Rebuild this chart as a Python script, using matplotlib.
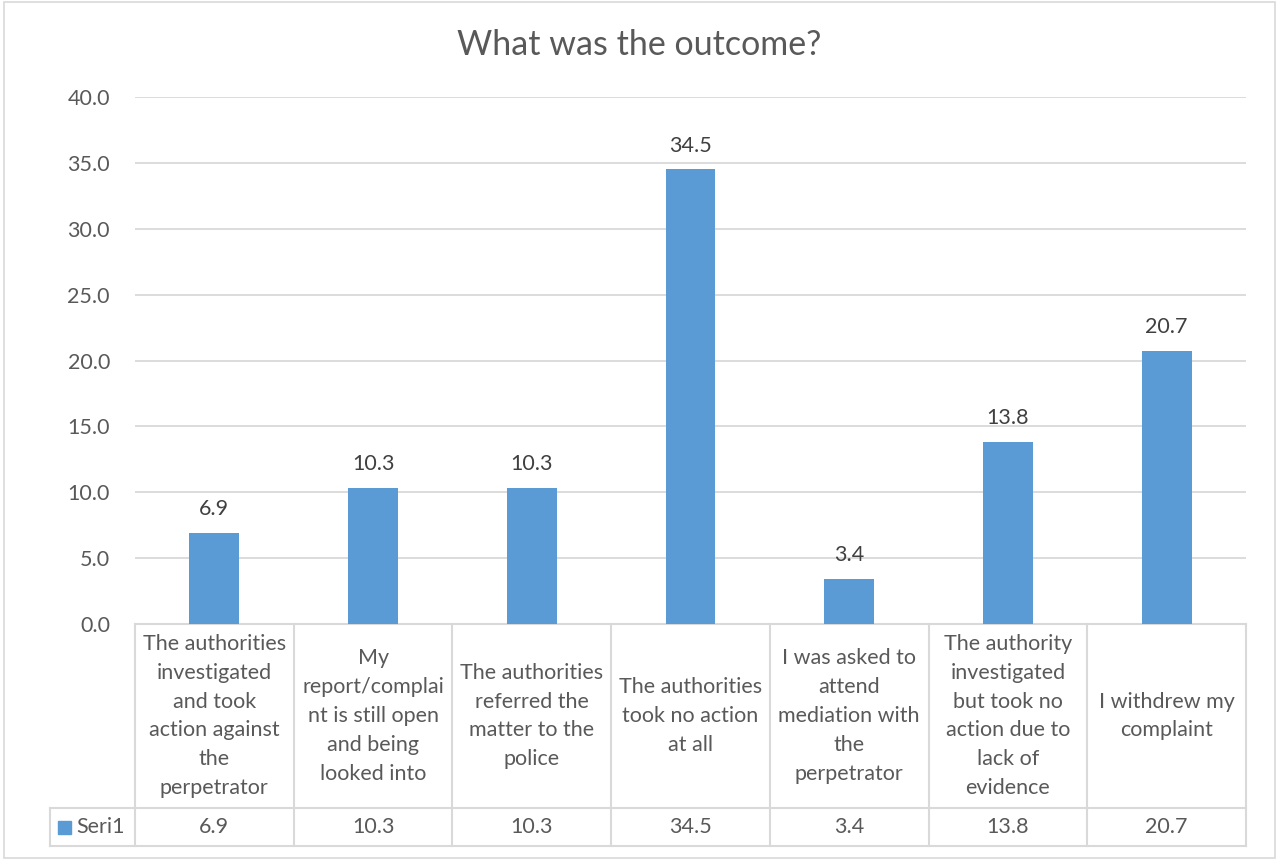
import matplotlib
matplotlib.use("Agg")
import matplotlib.pyplot as plt
from matplotlib.lines import Line2D
from matplotlib.patches import Rectangle

categories = [
    "The authorities\ninvestigated\nand took\naction against\nthe\nperpetrator",
    "My\nreport/complai\nnt is still open\nand being\nlooked into",
    "The authorities\nreferred the\nmatter to the\npolice",
    "The authorities\ntook no action\nat all",
    "I was asked to\nattend\nmediation with\nthe\nperpetrator",
    "The authority\ninvestigated\nbut took no\naction due to\nlack of\nevidence",
    "I withdrew my\ncomplaint",
]
values = [6.9, 10.3, 10.3, 34.5, 3.4, 13.8, 20.7]
series_name = "Seri1"
title = "What was the outcome?"
yticks = [0, 5, 10, 15, 20, 25, 30, 35, 40]

W, H = 1278, 861
plt.rcParams['font.family'] = ['Lato', 'DejaVu Sans']
fig = plt.figure(figsize=(W / 100, H / 100), dpi=100)

BAR = "#5B9BD5"
TXT = "#595959"
GRID = "#D9D9D9"
FS = 15.5

# outer border
fig.add_artist(Rectangle((4 / W, 1 - 858 / H), (1275 - 4) / W, (858 - 2) / H,
                         transform=fig.transFigure, fill=False,
                         edgecolor=GRID, lw=1.2))

left, right, top, bottom = 135, 1246, 97, 624
ax = fig.add_axes([left / W, 1 - bottom / H, (right - left) / W, (bottom - top) / H])
n = len(values)
x = list(range(n))
ax.bar(x, values, width=0.315, color=BAR, zorder=3)
ax.set_xlim(-0.5, n - 0.5)
ax.set_ylim(0, 40)
ax.set_yticks(yticks)
ax.set_yticklabels([f"{v:.1f}" for v in yticks], color=TXT, fontsize=FS)
ax.tick_params(axis='y', length=0, pad=18)
ax.set_xticks([])
for s in ax.spines.values():
    s.set_visible(False)
ax.yaxis.grid(True, color=GRID, lw=1.3, zorder=0)
ax.set_axisbelow(True)

for xi, v in zip(x, values):
    ax.annotate(f"{v:.1f}", (xi, v), xytext=(0, 10), textcoords="offset points",
                ha="center", va="bottom", fontsize=FS, color="#404040")

fig.text(0.5, 1 - 45 / H, title, ha="center", va="center", fontsize=24.5, color=TXT)

# data table
h = bottom - top
def yax(py):
    return (bottom - py) / h

tr = ax.get_xaxis_transform()
y0 = yax(624)
y1 = yax(808)
y2 = yax(846)
xtab_left = -0.5 - (left - 50) / ((right - left) / n)
lkw = dict(color=GRID, lw=1.5, transform=tr, clip_on=False)
ax.add_line(Line2D([-0.5, n - 0.5], [y0, y0], **lkw))
ax.add_line(Line2D([xtab_left, n - 0.5], [y1, y1], **lkw))
ax.add_line(Line2D([xtab_left, n - 0.5], [y2, y2], **lkw))
for i in range(n + 1):
    ax.add_line(Line2D([i - 0.5, i - 0.5], [y0, y2], **lkw))
ax.add_line(Line2D([xtab_left, xtab_left], [y1, y2], **lkw))

for xi, (c, v) in enumerate(zip(categories, values)):
    ax.text(xi, (y0 + y1) / 2, c, transform=tr, ha="center", va="center",
            fontsize=FS, color=TXT, linespacing=1.55, clip_on=False)
    ax.text(xi, (y1 + y2) / 2, f"{v:.1f}", transform=tr, ha="center", va="center",
            fontsize=FS, color=TXT, clip_on=False)

# legend key in table
fig.add_artist(Rectangle((58 / W, 1 - 834 / H), 13 / W, 13 / H,
                         transform=fig.transFigure, color=BAR))
fig.text(76 / W, 1 - 827 / H, series_name, ha="left", va="center",
         fontsize=FS, color=TXT)

fig.savefig("out.png", dpi=100)
